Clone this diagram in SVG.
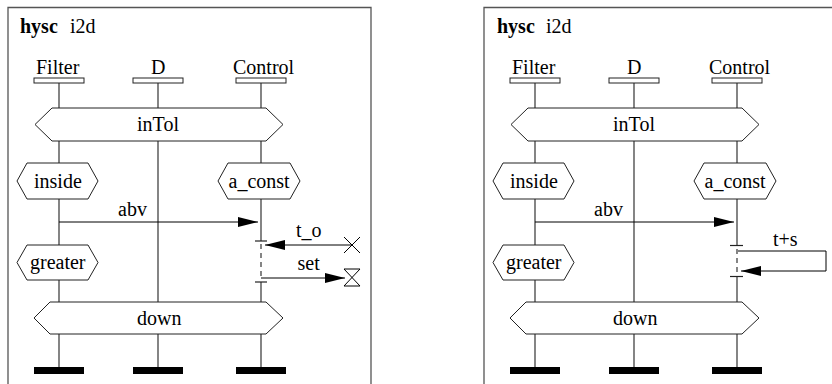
<svg xmlns="http://www.w3.org/2000/svg" width="832" height="384" viewBox="0 0 832 384">
<defs>
<style>
.ttl{font-family:"Liberation Serif",serif;font-size:20px;fill:#000}
.bold{font-weight:bold}
.frame{fill:none;stroke:#555;stroke-width:1.3}
.life{stroke:#444;stroke-width:1.3;fill:none}
.dash{stroke:#444;stroke-width:1.3;stroke-dasharray:5,4;fill:none}
.hex{fill:#fff;stroke:#222;stroke-width:1}
.head{fill:#fff;stroke:#222;stroke-width:1}
.bar{fill:#000}
.msg{stroke:#000;stroke-width:1;fill:none}
.tick{stroke:#222;stroke-width:1.2}
</style>
<marker id="ah" markerUnits="userSpaceOnUse" markerWidth="21" markerHeight="11" refX="20" refY="5" orient="auto">
<path d="M0,0 L20,5 L0,10 Z" fill="#000"/>
</marker>
</defs>
<rect width="832" height="384" fill="#fff"/>

<!-- LEFT PANEL -->
<g id="left">
<path class="frame" d="M8,392 L8,7.5 L371,7.5 L371,392"/>
<g id="L-title"><text x="20" y="33" class="ttl bold">hysc</text><text x="70" y="33" class="ttl">i2d</text></g>
<g id="L-lifelines">
<path class="life" d="M59,83 V108 M59,141 V163 M59,199 V245 M59,280 V302 M59,334 V367"/>
<path class="life" d="M158,83 V108 M158,141 V302 M158,334 V367"/>
<path class="life" d="M261,83 V108 M261,141 V163 M261,199 V241 M261,282 V302 M261,334 V367"/>
<path class="dash" d="M261,244 V280"/>
</g>
<g id="L-Filter"><text x="36" y="74" class="ttl">Filter</text><rect class="head" x="34" y="78" width="50" height="5"/></g>
<g id="L-D"><text x="151" y="74" class="ttl">D</text><rect class="head" x="133" y="78" width="50" height="5"/></g>
<g id="L-Control"><text x="233" y="74" class="ttl">Control</text><rect class="head" x="236" y="78" width="50" height="5"/></g>
<g id="L-inTol"><path class="hex" d="M35,124.5 L52,108 L266,108 L283,124.5 L266,141 L52,141 Z"/><text x="137" y="131" class="ttl">inTol</text></g>
<g id="L-inside"><path class="hex" d="M17,181 L27,163 L88,163 L98,181 L88,199 L27,199 Z"/><text x="34" y="188" class="ttl">inside</text></g>
<g id="L-a_const"><path class="hex" d="M218,181 L228,163 L290,163 L300,181 L290,199 L228,199 Z"/><text x="228.5" y="188" class="ttl">a_const</text></g>
<g id="L-greater"><path class="hex" d="M17,262.5 L27,245 L88,245 L98,262.5 L88,280 L27,280 Z"/><text x="30" y="269" class="ttl">greater</text></g>
<g id="L-down"><path class="hex" d="M34,318 L50,302 L266,302 L283,318 L266,334 L50,334 Z"/><text x="137" y="325" class="ttl">down</text></g>
<g id="L-ends"><rect class="bar" x="34" y="367" width="50" height="7"/><rect class="bar" x="133" y="367" width="50" height="7"/><rect class="bar" x="236" y="367" width="50" height="7"/></g>
<g id="L-timeout"><path class="msg" d="M344,237 L360,253 M360,237 L344,253"/></g>
<g id="L-timer"><path class="msg" d="M344,269 H360 L344,286 H360 Z"/></g>
<g id="L-connectors">
<line class="msg" x1="59" y1="222" x2="258" y2="222" marker-end="url(#ah)"/>
<text x="118" y="216" class="ttl">abv</text>
<line class="tick" x1="255" y1="241" x2="267" y2="241"/>
<line class="tick" x1="255" y1="282" x2="267" y2="282"/>
<line class="msg" x1="352" y1="245" x2="265" y2="245" marker-end="url(#ah)"/>
<text x="296" y="237" class="ttl">t_o</text>
<line class="msg" x1="261" y1="278" x2="345" y2="278" marker-end="url(#ah)"/>
<text x="297.5" y="270" class="ttl">set</text>
</g>
</g>

<!-- RIGHT PANEL -->
<g id="right">
<path class="frame" d="M484,392 L484,7.5 L850,7.5"/>
<g id="R-title"><text x="497" y="33" class="ttl bold">hysc</text><text x="546" y="33" class="ttl">i2d</text></g>
<g id="R-lifelines">
<path class="life" d="M535,83 V108 M535,141 V163 M535,199 V245 M535,280 V302 M535,334 V367"/>
<path class="life" d="M634,83 V108 M634,141 V302 M634,334 V367"/>
<path class="life" d="M737,83 V108 M737,141 V163 M737,199 V245 M737,276 V302 M737,334 V367"/>
<path class="dash" d="M737,249 V274"/>
</g>
<g id="R-Filter"><text x="512" y="74" class="ttl">Filter</text><rect class="head" x="510" y="78" width="50" height="5"/></g>
<g id="R-D"><text x="627" y="74" class="ttl">D</text><rect class="head" x="609" y="78" width="50" height="5"/></g>
<g id="R-Control"><text x="709" y="74" class="ttl">Control</text><rect class="head" x="712" y="78" width="50" height="5"/></g>
<g id="R-inTol"><path class="hex" d="M511,124.5 L528,108 L742,108 L759,124.5 L742,141 L528,141 Z"/><text x="613" y="131" class="ttl">inTol</text></g>
<g id="R-inside"><path class="hex" d="M493,181 L503,163 L564,163 L574,181 L564,199 L503,199 Z"/><text x="510" y="188" class="ttl">inside</text></g>
<g id="R-a_const"><path class="hex" d="M694,181 L704,163 L766,163 L776,181 L766,199 L704,199 Z"/><text x="704.5" y="188" class="ttl">a_const</text></g>
<g id="R-greater"><path class="hex" d="M493,262.5 L503,245 L564,245 L574,262.5 L564,280 L503,280 Z"/><text x="506" y="269" class="ttl">greater</text></g>
<g id="R-down"><path class="hex" d="M510,318 L526,302 L742,302 L759,318 L742,334 L526,334 Z"/><text x="613" y="325" class="ttl">down</text></g>
<g id="R-ends"><rect class="bar" x="510" y="367" width="50" height="7"/><rect class="bar" x="609" y="367" width="50" height="7"/><rect class="bar" x="712" y="367" width="50" height="7"/></g>
<g id="R-connectors">
<line class="msg" x1="535" y1="222" x2="734" y2="222" marker-end="url(#ah)"/>
<text x="594" y="216" class="ttl">abv</text>
<line class="tick" x1="730" y1="245.5" x2="743" y2="245.5"/>
<line class="tick" x1="730" y1="276.5" x2="743" y2="276.5"/>
<path class="msg" d="M738,251 H826 V271 H741" marker-end="url(#ah)"/>
<text x="773" y="246" class="ttl">t+s</text>
</g>
</g>
</svg>
